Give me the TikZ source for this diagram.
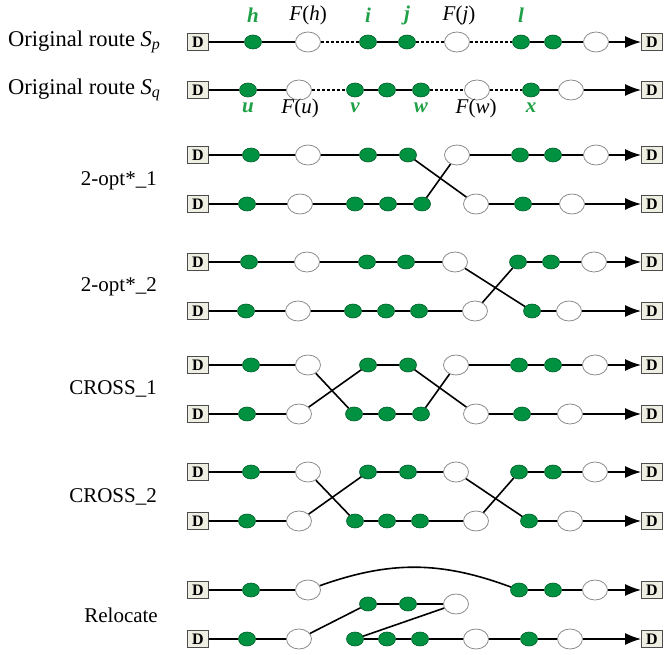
\documentclass[tikz,border=0pt]{standalone}
\usepackage{fontspec}
\setmainfont{Liberation Serif}
\usetikzlibrary{shapes.geometric,arrows.meta}
\definecolor{gfill}{RGB}{0,145,65}
\definecolor{gdraw}{RGB}{0,95,40}
\definecolor{glabel}{RGB}{30,160,70}
\definecolor{boxfill}{RGB}{238,238,226}
\begin{document}
\begin{tikzpicture}[x=1pt,y=-1pt,
  gnode/.style={ellipse,draw=gdraw,fill=gfill,line width=0.6pt,minimum width=17pt,minimum height=14pt,inner sep=0pt},
  wnode/.style={ellipse,draw=gray!90,fill=white,line width=0.8pt,minimum width=25pt,minimum height=20pt,inner sep=0pt},
  dbox/.style={draw=gray!60!black,fill=boxfill,line width=0.8pt,minimum width=21pt,minimum height=17pt,inner sep=0pt,font=\fontsize{16}{16}\selectfont\bfseries},
  route/.style={line width=1.6pt},
  dotroute/.style={line width=1.3pt,dash pattern=on 3pt off 2pt},
  arr/.style={line width=1.6pt,-{Latex[length=16pt,width=12pt]}},
  rowlab/.style={font=\fontsize{21}{25}\selectfont,inner sep=0pt},
  toplab/.style={font=\fontsize{22.5}{26}\selectfont,inner sep=0pt},
  glab/.style={font=\fontsize{21}{25}\selectfont\bfseries\itshape,text=glabel,inner sep=0pt},
  flab/.style={font=\fontsize{21}{25}\selectfont,inner sep=0pt}]
\useasboundingbox (0,0) rectangle (665,655);

% ---------------- Original routes ----------------
\node[toplab,anchor=west] (lsp) at (8,42) {Original route \textit{S}\raisebox{-0.35ex}{\fontsize{16}{16}\selectfont\textit{p}}};
\node[toplab,anchor=west] (lsq) at (8,90) {Original route \textit{S}\raisebox{-0.35ex}{\fontsize{16}{16}\selectfont\textit{q}}};

\node[dbox] (p0) at (198,42) {D};
\node[gnode] (ph) at (253,42) {};
\node[wnode] (pFh) at (308,42) {};
\node[gnode] (pi) at (368,42) {};
\node[gnode] (pj) at (407,42) {};
\node[wnode] (pFj) at (457,42) {};
\node[gnode] (pl) at (521,42) {};
\node[gnode] (pm) at (553,42) {};
\node[wnode] (pn) at (596,42) {};
\node[dbox] (pD) at (652,42) {D};
\draw[route] (p0) -- (ph) -- (pFh);
\draw[dotroute] (pFh) -- (pi);
\draw[route] (pi) -- (pj);
\draw[dotroute] (pj) -- (pFj);
\draw[dotroute] (pFj) -- (pl);
\draw[route] (pl) -- (pm) -- (pn);
\draw[arr] (pn) -- (pD);

\node[dbox] (q0) at (198,90) {D};
\node[gnode] (qu) at (248,90) {};
\node[wnode] (qFu) at (299,90) {};
\node[gnode] (qv) at (355,90) {};
\node[gnode] (q2) at (387,90) {};
\node[gnode] (qw) at (421,90) {};
\node[wnode] (qFw) at (477,90) {};
\node[gnode] (qx) at (531,90) {};
\node[wnode] (qn) at (571,90) {};
\node[dbox] (qD) at (652,90) {D};
\draw[route] (q0) -- (qu) -- (qFu);
\draw[dotroute] (qFu) -- (qv);
\draw[route] (qv) -- (q2) -- (qw);
\draw[dotroute] (qw) -- (qFw);
\draw[dotroute] (qFw) -- (qx);
\draw[route] (qx) -- (qn);
\draw[arr] (qn) -- (qD);

\node[glab] (th) at (253,15) {h};
\node[flab] (tFh) at (308,15) {\textit{F}(\textit{h})};
\node[glab] (ti) at (368,15) {i};
\node[glab] (tj) at (407,15) {j};
\node[flab] (tFj) at (459,15) {\textit{F}(\textit{j})};
\node[glab] (tl) at (521,15) {l};
\node[glab] (tu) at (248,108) {u};
\node[flab] (tFu) at (300,108) {\textit{F}(\textit{u})};
\node[glab] (tv) at (355,108) {v};
\node[glab] (tw) at (421,108) {w};
\node[flab] (tFw) at (476,108) {\textit{F}(\textit{w})};
\node[glab] (tx) at (531,108) {x};

% ---------------- 2-opt*_1 ----------------
\node[rowlab,anchor=east] (la) at (157,181) {2-opt*\_1};
\node[dbox] (a0) at (198,155) {D};
\node[gnode] (a1) at (251,155) {};
\node[wnode] (a2) at (308,155) {};
\node[gnode] (a3) at (368,155) {};
\node[gnode] (a4) at (408,155) {};
\node[wnode] (a5) at (457,155) {};
\node[gnode] (a6) at (520,155) {};
\node[gnode] (a7) at (553,155) {};
\node[wnode] (a8) at (596,155) {};
\node[dbox] (aD) at (652,155) {D};
\node[dbox] (b0) at (198,204) {D};
\node[gnode] (b1) at (247,204) {};
\node[wnode] (b2) at (300,204) {};
\node[gnode] (b3) at (355,204) {};
\node[gnode] (b4) at (388,204) {};
\node[gnode] (b5) at (422,204) {};
\node[wnode] (b6) at (476,204) {};
\node[gnode] (b7) at (523,204) {};
\node[wnode] (b8) at (572,204) {};
\node[dbox] (bD) at (652,204) {D};
\draw[route] (a0) -- (a1) -- (a2) -- (a3) -- (a4) -- (b6) -- (b7) -- (b8);
\draw[route] (b0) -- (b1) -- (b2) -- (b3) -- (b4) -- (b5) -- (a5) -- (a6) -- (a7) -- (a8);
\draw[arr] (a8) -- (aD);
\draw[arr] (b8) -- (bD);

% ---------------- 2-opt*_2 ----------------
\node[rowlab,anchor=east] (lb) at (157,287) {2-opt*\_2};
\node[dbox] (c0) at (198,262) {D};
\node[gnode] (c1) at (249,262) {};
\node[wnode] (c2) at (307,262) {};
\node[gnode] (c3) at (367,262) {};
\node[gnode] (c4) at (406,262) {};
\node[wnode] (c5) at (455,262) {};
\node[gnode] (c6) at (518,262) {};
\node[gnode] (c7) at (551,262) {};
\node[wnode] (c8) at (594,262) {};
\node[dbox] (cD) at (652,262) {D};
\node[dbox] (d0) at (198,311) {D};
\node[gnode] (d1) at (246,311) {};
\node[wnode] (d2) at (298,311) {};
\node[gnode] (d3) at (353,311) {};
\node[gnode] (d4) at (386,311) {};
\node[gnode] (d5) at (419,311) {};
\node[wnode] (d6) at (475,311) {};
\node[gnode] (d7) at (532,311) {};
\node[wnode] (d8) at (569,311) {};
\node[dbox] (dD) at (652,311) {D};
\draw[route] (c0) -- (c1) -- (c2) -- (c3) -- (c4) -- (c5) -- (d7) -- (d8);
\draw[route] (d0) -- (d1) -- (d2) -- (d3) -- (d4) -- (d5) -- (d6) -- (c6) -- (c7) -- (c8);
\draw[arr] (c8) -- (cD);
\draw[arr] (d8) -- (dD);

% ---------------- CROSS_1 ----------------
\node[rowlab,anchor=east] (lc) at (157,389) {CROSS\_1};
\node[dbox] (e0) at (198,365) {D};
\node[gnode] (e1) at (251,365) {};
\node[wnode] (e2) at (308,365) {};
\node[gnode] (e3) at (368,365) {};
\node[gnode] (e4) at (408,365) {};
\node[wnode] (e5) at (456,365) {};
\node[gnode] (e6) at (519,365) {};
\node[gnode] (e7) at (553,365) {};
\node[wnode] (e8) at (595,365) {};
\node[dbox] (eD) at (652,365) {D};
\node[dbox] (f0) at (198,414) {D};
\node[gnode] (f1) at (247,414) {};
\node[wnode] (f2) at (299,414) {};
\node[gnode] (f3) at (354,414) {};
\node[gnode] (f4) at (387,414) {};
\node[gnode] (f5) at (421,414) {};
\node[wnode] (f6) at (476,414) {};
\node[gnode] (f7) at (522,414) {};
\node[wnode] (f8) at (570,414) {};
\node[dbox] (fD) at (652,414) {D};
\draw[route] (e0) -- (e1) -- (e2) -- (f3) -- (f4) -- (f5) -- (e5) -- (e6) -- (e7) -- (e8);
\draw[route] (f0) -- (f1) -- (f2) -- (e3) -- (e4) -- (f6) -- (f7) -- (f8);
\draw[arr] (e8) -- (eD);
\draw[arr] (f8) -- (fD);

% ---------------- CROSS_2 ----------------
\node[rowlab,anchor=east] (ld) at (157,497) {CROSS\_2};
\node[dbox] (g0) at (198,472) {D};
\node[gnode] (g1) at (251,472) {};
\node[wnode] (g2) at (308,472) {};
\node[gnode] (g3) at (368,472) {};
\node[gnode] (g4) at (408,472) {};
\node[wnode] (g5) at (456,472) {};
\node[gnode] (g6) at (519,472) {};
\node[gnode] (g7) at (553,472) {};
\node[wnode] (g8) at (595,472) {};
\node[dbox] (gD) at (652,472) {D};
\node[dbox] (h0) at (198,521) {D};
\node[gnode] (h1) at (247,521) {};
\node[wnode] (h2) at (299,521) {};
\node[gnode] (h3) at (355,521) {};
\node[gnode] (h4) at (387,521) {};
\node[gnode] (h5) at (420,521) {};
\node[wnode] (h6) at (476,521) {};
\node[gnode] (h7) at (529,521) {};
\node[wnode] (h8) at (570,521) {};
\node[dbox] (hD) at (652,521) {D};
\draw[route] (g0) -- (g1) -- (g2) -- (h3) -- (h4) -- (h5) -- (h6) -- (g6) -- (g7) -- (g8);
\draw[route] (h0) -- (h1) -- (h2) -- (g3) -- (g4) -- (g5) -- (h7) -- (h8);
\draw[arr] (g8) -- (gD);
\draw[arr] (h8) -- (hD);

% ---------------- Relocate ----------------
\node[rowlab,anchor=east] (le) at (158,615) {Relocate};
\node[dbox] (r0) at (198,590) {D};
\node[gnode] (r1) at (251,590) {};
\node[wnode] (r2) at (308,590) {};
\node[gnode] (r6) at (519,590) {};
\node[gnode] (r7) at (553,590) {};
\node[wnode] (r8) at (595,590) {};
\node[dbox] (rD) at (652,590) {D};
\node[gnode] (m1) at (368,604) {};
\node[gnode] (m2) at (408,604) {};
\node[wnode] (m3) at (456,604) {};
\node[dbox] (s0) at (198,639) {D};
\node[gnode] (s1) at (247,639) {};
\node[wnode] (s2) at (299,639) {};
\node[gnode] (s3) at (355,639) {};
\node[gnode] (s4) at (387,639) {};
\node[gnode] (s5) at (420,639) {};
\node[wnode] (s6) at (476,639) {};
\node[gnode] (s7) at (529,639) {};
\node[wnode] (s8) at (570,639) {};
\node[dbox] (sD) at (652,639) {D};
\draw[route] (r0) -- (r1) -- (r2);
\draw[route] (r2) to[bend left=20] (r6);
\draw[route] (r6) -- (r7) -- (r8);
\draw[arr] (r8) -- (rD);
\draw[route] (s0) -- (s1) -- (s2) -- (m1) -- (m2) -- (m3) -- (s3) -- (s4) -- (s5) -- (s6) -- (s7) -- (s8);
\draw[arr] (s8) -- (sD);
\end{tikzpicture}
\end{document}
